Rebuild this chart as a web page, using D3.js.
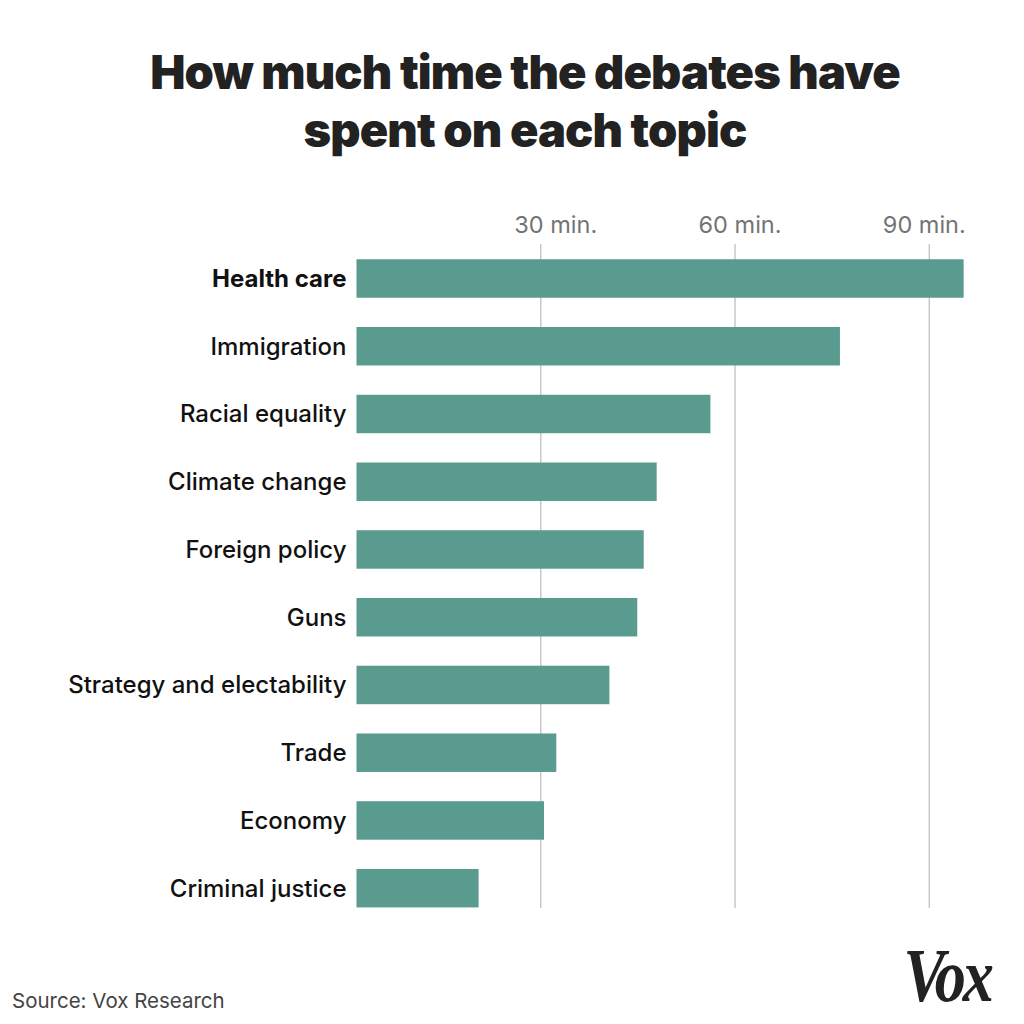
<!DOCTYPE html>
<html>
<head>
<meta charset="utf-8">
<script src="https://cdn.jsdelivr.net/npm/d3@7"></script>
<style>
  html, body { margin: 0; padding: 0; background: #fff; }
  svg { display: block; }
</style>
</head>
<body>
<svg width="1024" height="1024"></svg>
<script>
// data (minutes)
const topics = ['Health care', 'Immigration', 'Racial equality', 'Climate change', 'Foreign policy',
    'Guns', 'Strategy and electability', 'Trade', 'Economy', 'Criminal justice'];
const minutes = [95.3, 76.2, 56.2, 47.9, 45.9, 44.9, 40.6, 32.4, 30.5, 20.4];
const tickValues = [30, 60, 90];
const titleLines = ['How much time the debates have', 'spent on each topic'];
const source = 'Source: Vox Research';

const rows = topics.map((t, i) => ({ topic: t, value: minutes[i] }));

const svg = d3.select('svg');
const font = 'Inter, "Libre Franklin", "Open Sans", sans-serif';

const x = d3.scaleLinear().domain([0, 90]).range([346.5, 929.3]);
const y = d3.scaleBand()
    .domain(topics)
    .range([230, 936.7])
    .padding(0.432);

const barInset = 10;
// tick labels in the original sit a little off their gridlines
const labelShift = [15, 5, -5];

// title
svg.append('g')
    .selectAll('text')
    .data(titleLines)
    .join('text')
        .attr('x', 525)
        .attr('y', (d, i) => 89 + i * 58)
        .attr('text-anchor', 'middle')
        .attr('font-family', font)
        .attr('font-weight', 900)
        .attr('font-size', 47)
        .attr('letter-spacing', -0.9)
        .attr('fill', '#222')
        .text(d => d);

// gridlines + tick labels
const grid = svg.append('g').attr('class', 'grid');
grid.selectAll('line')
    .data(tickValues)
    .join('line')
        .attr('x1', d => x(d))
        .attr('x2', d => x(d))
        .attr('y1', 244)
        .attr('y2', 908)
        .attr('stroke', '#c8c8c8')
        .attr('stroke-width', 1.5);

grid.selectAll('text')
    .data(tickValues)
    .join('text')
        .attr('x', (d, i) => x(d) + labelShift[i])
        .attr('y', 233)
        .attr('text-anchor', 'middle')
        .attr('font-family', font)
        .attr('font-size', 23.5)
        .attr('fill', '#747474')
        .text(d => `${d} min.`);

// bars
svg.append('g')
    .selectAll('rect')
    .data(rows)
    .join('rect')
        .attr('x', x(0) + barInset)
        .attr('y', d => y(d.topic))
        .attr('width', d => x(d.value) - x(0) - barInset)
        .attr('height', y.bandwidth())
        .attr('fill', '#5a9b90');

// category labels
svg.append('g')
    .selectAll('text')
    .data(rows)
    .join('text')
        .attr('x', x(0))
        .attr('y', d => y(d.topic) + y.bandwidth() / 2)
        .attr('dy', '0.35em')
        .attr('text-anchor', 'end')
        .attr('font-family', font)
        .attr('font-size', 24)
        .attr('font-weight', (d, i) => i === 0 ? 700 : 500)
        .attr('fill', '#111')
        .text(d => d.topic);

// footer
svg.append('text')
    .attr('x', 12)
    .attr('y', 1008)
    .attr('font-family', font)
    .attr('font-size', 20.5)
    .attr('fill', '#444')
    .text(source);

svg.append('text')
    .attr('transform', 'translate(947,1001) scale(0.82,1)')
    .attr('text-anchor', 'middle')
    .attr('font-family', '"Liberation Serif", "DejaVu Serif", serif')
    .attr('font-weight', 700)
    .attr('font-style', 'italic')
    .attr('font-size', 76)
    .attr('letter-spacing', -4)
    .attr('fill', '#222')
    .text('Vox');
</script>
</body>
</html>
